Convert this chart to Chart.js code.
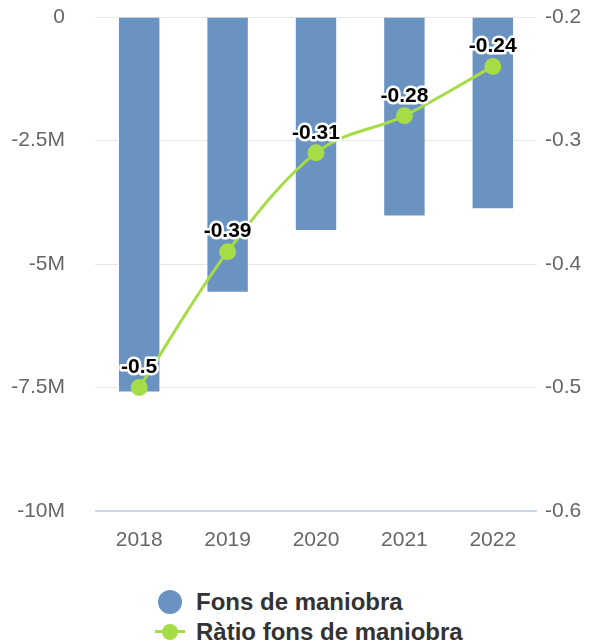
<!DOCTYPE html>
<html>
<head>
<meta charset="utf-8">
<script src="https://cdn.jsdelivr.net/npm/chart.js@4"></script>
<style>
  body { margin: 0; background: #fff; font-family: "Liberation Sans", Arial, sans-serif; }
  #wrap { position: relative; width: 607px; height: 643px; }
  #chartBox { position: absolute; left: 0; top: 0; width: 607px; height: 575px; }
  #legend { position: absolute; left: 0; top: 587px; width: 607px; }
  .item { position: absolute; left: 155px; height: 30px; display: flex; align-items: center;
          font-weight: bold; font-size: 24px; color: #333; white-space: nowrap; }
  .sym { position: relative; width: 30px; height: 30px; margin-right: 11px; }
  .dot { position: absolute; left: 3px; top: 3px; width: 24px; height: 24px; border-radius: 50%; background: #6b93c2; }
  .ln { position: absolute; left: 0; top: 13px; width: 30px; height: 3px; background: #a6dc46; }
  .pt { position: absolute; left: 7px; top: 7px; width: 16px; height: 16px; border-radius: 50%; background: #a6dc46; }
</style>
</head>
<body>
<div id="wrap">
  <div id="chartBox"><canvas id="graphCanvas"></canvas></div>
  <div id="legend">
    <div class="item" style="top:0px"><div class="sym"><div class="dot"></div></div>Fons de maniobra</div>
    <div class="item" style="top:30px"><div class="sym"><div class="ln"></div><div class="pt"></div></div>Ràtio fons de maniobra</div>
  </div>
</div>
<script>
const years = ["2018", "2019", "2020", "2021", "2022"];
const fonsManiobra = [-7600000, -5580000, -4330000, -4040000, -3890000];
const ratioFons = [-0.5, -0.39, -0.31, -0.28, -0.24];

const barColor = "#6b93c2";
const lineColor = "#a6dc46";
const tickFont = { family: '"Liberation Sans", Arial, sans-serif', size: 21 };

function formatMillions(v) {
    if (v === 0) return "0";
    return (v / 1000000) + "M";
}

// labels above each ratio point, black text with a white halo
const valueLabels = {
    id: "valueLabels",
    afterDatasetsDraw(chart) {
        const meta = chart.getDatasetMeta(1);
        const c = chart.ctx;
        c.save();
        c.font = 'bold 21px "Liberation Sans", Arial, sans-serif';
        c.textAlign = "center";
        c.textBaseline = "middle";
        c.lineJoin = "round";
        c.lineWidth = 5;
        c.strokeStyle = "#fff";
        c.fillStyle = "#000";
        meta.data.forEach((pt, i) => {
            const txt = String(ratioFons[i]);
            c.strokeText(txt, pt.x, pt.y - 20);
            c.fillText(txt, pt.x, pt.y - 20);
        });
        c.restore();
    }
};

const canvas = document.getElementById("graphCanvas");
const chart = new Chart(canvas.getContext("2d"), {
    data: {
        labels: years,
        datasets: [
            {
                type: "bar",
                label: "Fons de maniobra",
                data: fonsManiobra,
                backgroundColor: barColor,
                borderColor: "#fff",
                borderWidth: 1,
                categoryPercentage: 1,
                barPercentage: 0.48,
                yAxisID: "y",
                order: 1
            },
            {
                type: "line",
                label: "Ràtio fons de maniobra",
                data: ratioFons,
                borderColor: lineColor,
                backgroundColor: lineColor,
                pointBackgroundColor: lineColor,
                pointBorderColor: lineColor,
                borderWidth: 3,
                pointRadius: 7,
                cubicInterpolationMode: "monotone",
                yAxisID: "y1",
                order: 0
            }
        ]
    },
    options: {
        responsive: true,
        maintainAspectRatio: false,
        animation: false,
        layout: { padding: { top: 17, bottom: 0 } },
        plugins: {
            legend: { display: false },
            tooltip: { enabled: false }
        },
        scales: {
            x: {
                grid: { display: false, drawTicks: false },
                border: { display: false },
                ticks: { color: "#666", font: tickFont, padding: 17 },
                afterFit(scale) { scale.height = 64; }
            },
            y: {
                position: "left",
                min: -10000000,
                max: 0,
                grid: {
                    tickLength: 30,
                    tickColor: "transparent",
                    color: (ctx) => ctx.tick && ctx.tick.value === -10000000 ? "#ccd6eb" : "#e6e6e6",
                    lineWidth: (ctx) => ctx.tick && ctx.tick.value === -10000000 ? 2 : 1
                },
                border: { display: false },
                ticks: {
                    stepSize: 2500000,
                    color: "#666",
                    font: tickFont,
                    padding: 0,
                    callback: formatMillions
                },
                afterFit(scale) { scale.width = 95; }
            },
            y1: {
                position: "right",
                min: -0.6,
                max: -0.2,
                grid: { display: false, tickLength: 8, tickColor: "transparent" },
                border: { display: false },
                ticks: {
                    stepSize: 0.1,
                    color: "#666",
                    font: tickFont,
                    padding: 0,
                    callback: (v) => v.toFixed(1)
                },
                afterFit(scale) { scale.width = 70; }
            }
        }
    },
    plugins: [valueLabels]
});
</script>
</body>
</html>
